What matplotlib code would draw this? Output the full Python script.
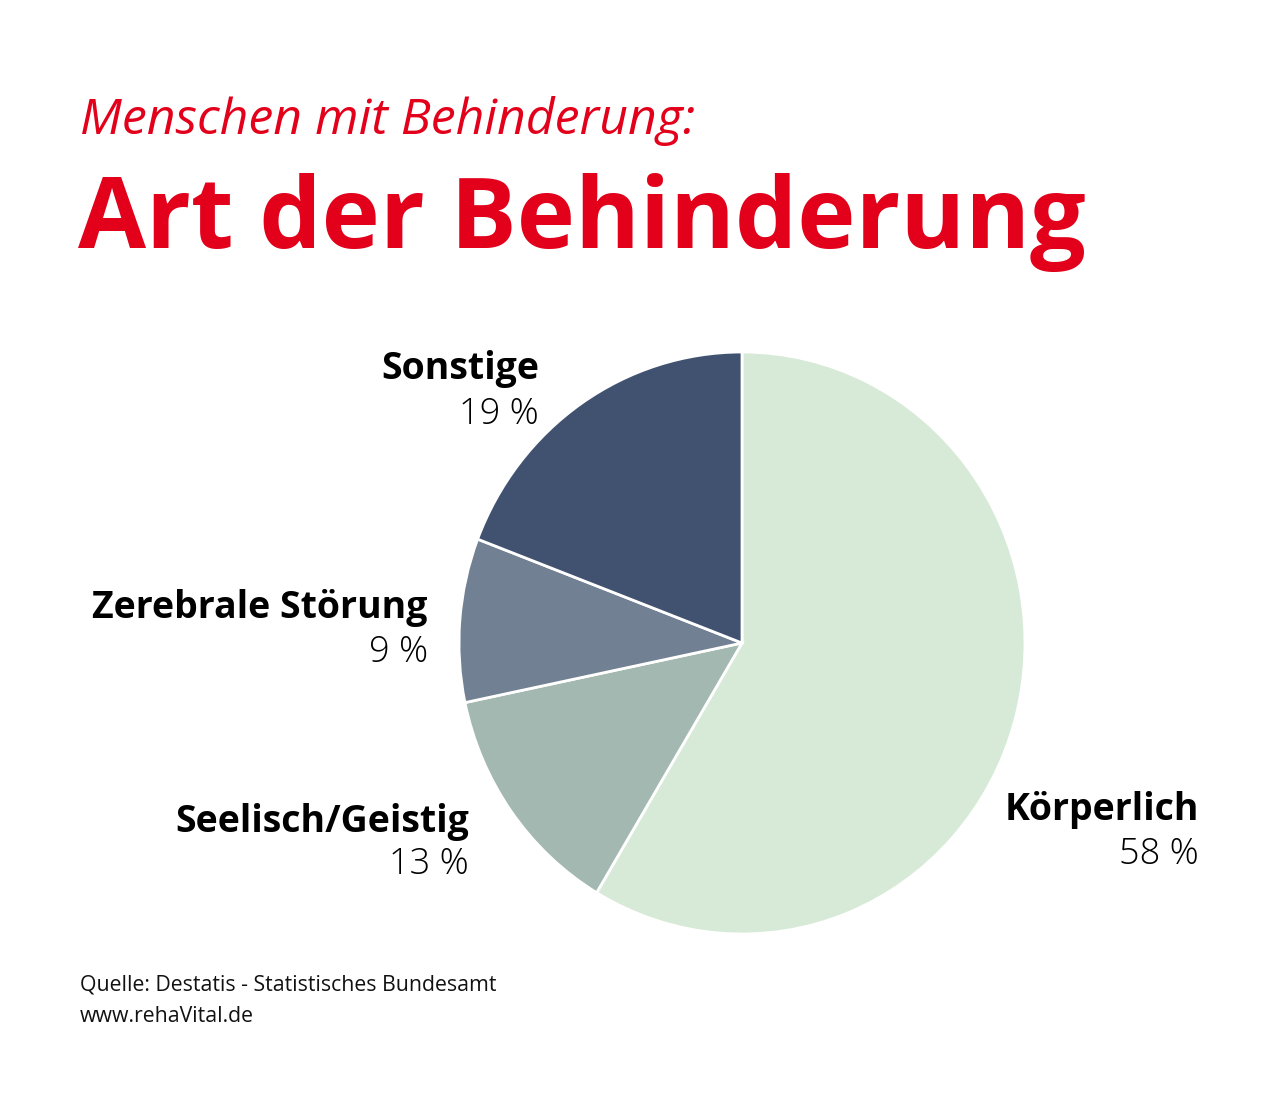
import matplotlib
matplotlib.use('Agg')
import matplotlib.pyplot as plt

# Daten (Destatis)
categories = ['Körperlich', 'Seelisch/Geistig', 'Zerebrale Störung', 'Sonstige']
shares = [58, 13, 9, 19]
colors = ['#d7ead7', '#a3b8b0', '#718093', '#415170']

W, H = 1280, 1103
RED = '#e2001a'


def px(x, y):
    # Pixelkoordinaten -> Figure-Koordinaten
    return x / W, 1 - y / H


fig = plt.figure(figsize=(W / 100, H / 100), dpi=100)
fig.patch.set_facecolor('white')

# Titel
fig.text(*px(80, 121), 'Menschen mit Behinderung:', color=RED, fontsize=36,
         fontstyle='italic', family='Open Sans', va='center', ha='left')
fig.text(*px(78, 222), 'Art der Behinderung', color=RED, fontsize=71,
         fontweight='bold', family='Open Sans', va='center', ha='left')

# Kreisdiagramm
cx, cy, rx, ry = 742, 643, 283, 291
ax = fig.add_axes([(cx - rx) / W, 1 - (cy + ry) / H, 2 * rx / W, 2 * ry / H])
ax.pie(shares, colors=colors, startangle=90, counterclock=False,
       wedgeprops=dict(edgecolor='white', linewidth=2))
ax.set_aspect('auto')
ax.set_xlim(-1, 1)
ax.set_ylim(-1, 1)
ax.axis('off')

# Beschriftungen
label_pos = {
    'Körperlich': (1199, 810, 855),
    'Seelisch/Geistig': (469, 822, 865),
    'Zerebrale Störung': (428, 608, 653),
    'Sonstige': (539, 369, 414),
}
for cat, val in zip(categories, shares):
    x, y1, y2 = label_pos[cat]
    fig.text(*px(x, y1), cat, fontsize=27, fontweight='bold', family='Open Sans',
             color='black', ha='right', va='center')
    fig.text(*px(x, y2), f'{val} %', fontsize=26, fontweight='light', family='Open Sans',
             color='black', ha='right', va='center')

# Quelle
fig.text(*px(80, 985), 'Quelle: Destatis - Statistisches Bundesamt', fontsize=15.3,
         family='Open Sans', color='#111111', ha='left', va='center')
fig.text(*px(80, 1016), 'www.rehaVital.de', fontsize=15.3,
         family='Open Sans', color='#111111', ha='left', va='center')

fig.savefig('out.png', dpi=100, facecolor='white')
